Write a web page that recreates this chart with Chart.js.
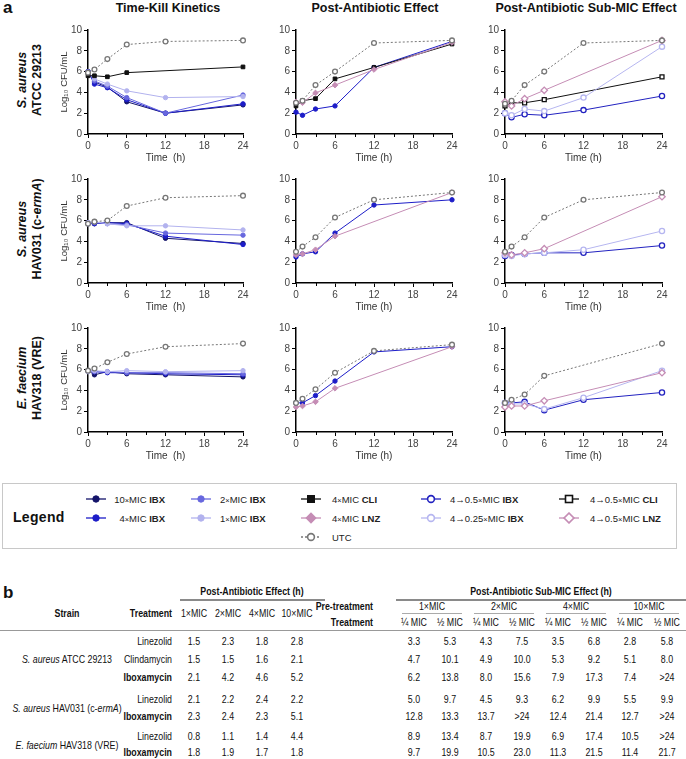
<!DOCTYPE html>
<html><head><meta charset="utf-8">
<script src="https://cdn.jsdelivr.net/npm/chart.js@4.4.1/dist/chart.umd.min.js"></script>
<style>
html,body{margin:0;padding:0;background:#fff}
body{width:686px;height:759px;position:relative;overflow:hidden;font-family:"Liberation Sans",Arial,sans-serif;color:#111}
.abs{position:absolute;white-space:nowrap}
canvas{position:absolute}
.rot{position:absolute;white-space:nowrap;transform:translate(-50%,-50%) rotate(-90deg);font-weight:bold;font-size:12.5px;color:#111}
.ctitle{position:absolute;white-space:nowrap;transform:translate(-50%,-50%);font-weight:bold;font-size:12.5px}
.lg{position:absolute;white-space:nowrap;font-size:9.5px;color:#222;transform:translateY(-50%)}
.lg .x{font-size:7.5px}
.tb{position:absolute;white-space:nowrap;font-family:"Liberation Sans",Arial,sans-serif;font-size:10.5px;color:#111;transform:translate(-50%,-50%) scaleX(0.84);transform-origin:50% 50%}
.tr{transform:translate(-100%,-50%) scaleX(0.84);transform-origin:100% 50%}
.hl{position:absolute;background:#8a8a8a}
</style>
</head><body>
<script>
// ---------------- DATA ----------------
const times = [0, 1, 3, 6, 12, 24];
const xTicks = [0, 6, 12, 18, 24];
const xMinorTicks = [3, 9, 15, 21];
const yTicks = [0, 2, 4, 6, 8, 10];
const colTitles = ["Time-Kill Kinetics", "Post-Antibiotic Effect", "Post-Antibiotic Sub-MIC Effect"];

// Row 1: S. aureus ATCC 29213
const tk1_utc   = [5.9, 6.2, 7.2, 8.6, 8.9, 9.0];
const tk1_cli   = [5.6, 5.6, 5.5, 5.9, null, 6.45];
const tk1_ibx10 = [6.0, 5.0, 4.5, 3.1, 2.0, 2.8];
const tk1_ibx4  = [6.0, 4.8, 4.45, 3.3, 2.0, 2.9];
const tk1_ibx2  = [6.0, 5.1, 4.6, 3.5, 2.0, 3.75];
const tk1_ibx1  = [5.9, 5.3, 4.8, 4.15, 3.5, 3.6];

const pae1_utc  = [3.0, 3.2, 4.7, 6.0, 8.75, 9.0];
const pae1_cli  = [2.7, 3.2, 3.4, 5.3, 6.4, 8.65];
const pae1_lnz  = [3.1, 3.0, 3.95, 4.7, 6.2, 8.8];
const pae1_ibx4 = [2.1, 1.8, 2.4, 2.7, 6.4, 8.9];

const sub1_utc    = [2.9, 3.2, 4.7, 6.0, 8.75, 9.0];
const sub1_cli    = [2.7, 3.0, 3.0, 3.3, null, 5.5];
const sub1_lnz    = [3.1, 2.7, 3.4, 4.2, null, 9.0];
const sub1_ibx025 = [2.0, 1.8, 2.4, 2.2, 3.5, 8.4];
const sub1_ibx05  = [2.0, 1.6, 1.9, 1.8, 2.3, 3.65];

// Row 2: S. aureus HAV031 (c-ermA)
const tk2_utc   = [5.7, 5.9, 6.0, 7.4, 8.2, 8.4];
const tk2_ibx10 = [5.8, 5.7, 5.8, 5.8, 4.3, 3.8];
const tk2_ibx4  = [5.7, 5.7, 5.8, 5.7, 4.5, 3.7];
const tk2_ibx2  = [5.7, 5.8, 5.7, 5.6, 4.8, 4.6];
const tk2_ibx1  = [5.8, 5.9, 5.7, 5.5, 5.5, 5.1];

const pae2_utc  = [3.0, 3.5, 4.4, 6.3, 8.0, 8.7];
const pae2_lnz  = [2.7, 2.8, 3.2, 4.5, null, 8.7];
const pae2_ibx4 = [2.5, 2.8, 3.0, 4.8, 7.5, 8.0];

const sub2_utc    = [3.0, 3.5, 4.4, 6.3, 8.0, 8.7];
const sub2_lnz    = [2.9, 2.7, 2.9, 3.3, null, 8.3];
const sub2_ibx025 = [2.7, 2.6, 2.8, 2.9, 3.2, 5.0];
const sub2_ibx05  = [2.6, 2.7, 2.8, 2.9, 2.9, 3.6];

// Row 3: E. faecium HAV318 (VRE)
const tk3_utc   = [5.9, 6.1, 6.7, 7.5, 8.2, 8.5];
const tk3_ibx10 = [5.9, 5.5, 5.8, 5.6, 5.5, 5.3];
const tk3_ibx4  = [5.9, 5.8, 5.7, 5.7, 5.6, 5.5];
const tk3_ibx2  = [5.9, 5.8, 5.8, 5.7, 5.7, 5.6];
const tk3_ibx1  = [5.8, 5.9, 5.8, 5.9, 5.8, 5.9];

const pae3_utc  = [2.8, 3.2, 4.1, 5.7, 7.8, 8.4];
const pae3_lnz  = [2.4, 2.5, 2.9, 4.2, null, 8.2];
const pae3_ibx4 = [2.8, 2.8, 3.5, 4.9, 7.7, 8.2];

const sub3_utc    = [2.8, 3.1, 3.6, 5.4, null, 8.5];
const sub3_lnz    = [2.4, 2.5, 2.5, 3.0, null, 5.7];
const sub3_ibx025 = [2.8, 2.7, 2.7, 2.2, 3.3, 5.9];
const sub3_ibx05  = [2.8, 2.8, 2.9, 2.1, 3.1, 3.8];

// Table (b)
const tblPaeHeaders = ["1×MIC", "2×MIC", "4×MIC", "10×MIC"];
const tblPreHeaders = ["1×MIC", "2×MIC", "4×MIC", "10×MIC"];
const tblSubHeaders = ["¼ MIC", "½ MIC", "¼ MIC", "½ MIC", "¼ MIC", "½ MIC", "¼ MIC", "½ MIC"];
const tblTreatments = ["Linezolid", "Clindamycin", "Iboxamycin", "Linezolid", "Iboxamycin", "Linezolid", "Iboxamycin"];
const tblPae = [
  ["1.5", "2.3", "1.8", "2.8"],
  ["1.5", "1.5", "1.6", "2.1"],
  ["2.1", "4.2", "4.6", "5.2"],
  ["2.1", "2.2", "2.4", "2.2"],
  ["2.3", "2.4", "2.3", "5.1"],
  ["0.8", "1.1", "1.4", "4.4"],
  ["1.8", "1.9", "1.7", "1.8"]
];
const tblSub = [
  ["3.3", "5.3", "4.3", "7.5", "3.5", "6.8", "2.8", "5.8"],
  ["4.7", "10.1", "4.9", "10.0", "5.3", "9.2", "5.1", "8.0"],
  ["6.2", "13.8", "8.0", "15.6", "7.9", "17.3", "7.4", ">24"],
  ["5.0", "9.7", "4.5", "9.3", "6.2", "9.9", "5.5", "9.9"],
  ["12.8", "13.3", "13.7", ">24", "12.4", "21.4", "12.7", ">24"],
  ["8.9", "13.4", "8.7", "19.9", "6.9", "17.4", "10.5", ">24"],
  ["9.7", "19.9", "10.5", "23.0", "11.3", "21.5", "11.4", "21.7"]
];
</script>
<script>
// ---------------- STYLES / LAYOUT ----------------
const ST = {
  ibx10:  {c:'#14146a', ps:'circle', fill:true,  r:2.2},
  ibx4:   {c:'#1d1dc8', ps:'circle', fill:true,  r:2.2},
  ibx2:   {c:'#6767de', ps:'circle', fill:true,  r:2.2},
  ibx1:   {c:'#b2b2ee', ps:'circle', fill:true,  r:2.2},
  cli:    {c:'#111111', ps:'rect',   fill:true,  r:2.6},
  lnz:    {c:'#c58db5', ps:'rectRot',fill:true,  r:2.8},
  ibx05:  {c:'#2222c0', ps:'circle', fill:false, r:2.6},
  ibx025: {c:'#b6b6f0', ps:'circle', fill:false, r:2.6},
  subcli: {c:'#111111', ps:'rect',   fill:false, r:2.8},
  sublnz: {c:'#c58db5', ps:'rectRot',fill:false, r:3.2},
  utc:    {c:'#777777', ps:'circle', fill:false, r:2.4, dash:[2,2]}
};
const AXIS_X = [88, 296, 505];
const PLOT_W = [155, 156, 157];
const Y_TOP = [30, 179, 328];
const PLOT_H = 104;
const YW = 40, XH = 34, PT = 10, PR = 12;

Chart.defaults.font.family = "'Liberation Sans', Arial, sans-serif";
Chart.defaults.animation = false;

const minorTicks = {
  id: 'minorTicks',
  afterDraw(chart) {
    const xs = chart.scales.x, ctx = chart.ctx;
    ctx.save(); ctx.strokeStyle = '#000'; ctx.lineWidth = 1;
    for (const v of xMinorTicks) {
      const px = Math.round(xs.getPixelForValue(v)) + 0.5;
      ctx.beginPath(); ctx.moveTo(px, xs.top); ctx.lineTo(px, xs.top + 3); ctx.stroke();
    }
    ctx.restore();
  }
};

function ds(key, values) {
  const s = ST[key];
  const pts = [];
  values.forEach((v, i) => { if (v !== null) pts.push({x: times[i], y: v}); });
  return {
    data: pts, borderColor: s.c, backgroundColor: s.fill ? s.c : '#ffffff',
    pointBackgroundColor: s.fill ? s.c : '#ffffff', pointBorderColor: s.c,
    pointStyle: s.ps, pointRadius: s.r, pointBorderWidth: s.fill ? 1 : 1.3,
    borderWidth: 1, borderDash: s.dash || [], clip: false, tension: 0
  };
}

function makeChart(col, row, sets) {
  const cv = document.createElement('canvas');
  const w = YW + PLOT_W[col] + PR, h = PT + PLOT_H + XH;
  cv.width = w; cv.height = h;
  cv.style.left = (AXIS_X[col] - YW) + 'px';
  cv.style.top = (Y_TOP[row] - PT) + 'px';
  cv.style.width = w + 'px'; cv.style.height = h + 'px';
  document.body.appendChild(cv);
  new Chart(cv, {
    type: 'line',
    data: {datasets: sets},
    plugins: [minorTicks],
    options: {
      responsive: false, animation: false, devicePixelRatio: 1,
      layout: {padding: {top: PT, right: PR, left: 0, bottom: 0}},
      plugins: {legend: {display: false}, tooltip: {enabled: false}},
      scales: {
        x: {
          type: 'linear', min: 0, max: 24,
          afterFit(s) { s.height = XH; },
          afterBuildTicks(s) { s.ticks = xTicks.map(v => ({value: v})); },
          ticks: {padding: 2, color: '#444', font: {size: 10}, maxRotation: 0, autoSkip: false},
          grid: {drawOnChartArea: false, drawTicks: true, tickLength: 4, tickColor: '#000', lineWidth: 1},
          border: {color: '#000', width: 1.5},
          title: {display: true, text: col === 0 ? 'Time  (h)' : 'Time (h)', color: '#333', font: {size: 10}, padding: {top: 0, bottom: 4}}
        },
        y: {
          type: 'linear', min: 0, max: 10,
          afterFit(s) { s.width = YW; },
          afterBuildTicks(s) { s.ticks = yTicks.map(v => ({value: v})); },
          ticks: {padding: 2, color: '#444', font: {size: 10}},
          grid: {drawOnChartArea: false, drawTicks: true, tickLength: 4, tickColor: '#000', lineWidth: 1},
          border: {color: '#000', width: 1.5},
          title: {display: col === 0, text: 'Log₁₀ CFU/mL', color: '#333', font: {size: 9.5}, padding: {top: 11, bottom: 0}}
        }
      }
    }
  });
}

// Row 1
makeChart(0, 0, [ds('utc', tk1_utc), ds('cli', tk1_cli), ds('ibx1', tk1_ibx1), ds('ibx2', tk1_ibx2), ds('ibx4', tk1_ibx4), ds('ibx10', tk1_ibx10)]);
makeChart(1, 0, [ds('utc', pae1_utc), ds('lnz', pae1_lnz), ds('cli', pae1_cli), ds('ibx4', pae1_ibx4)]);
makeChart(2, 0, [ds('utc', sub1_utc), ds('sublnz', sub1_lnz), ds('ibx025', sub1_ibx025), ds('subcli', sub1_cli), ds('ibx05', sub1_ibx05)]);
// Row 2
makeChart(0, 1, [ds('utc', tk2_utc), ds('ibx1', tk2_ibx1), ds('ibx2', tk2_ibx2), ds('ibx4', tk2_ibx4), ds('ibx10', tk2_ibx10)]);
makeChart(1, 1, [ds('utc', pae2_utc), ds('lnz', pae2_lnz), ds('ibx4', pae2_ibx4)]);
makeChart(2, 1, [ds('utc', sub2_utc), ds('sublnz', sub2_lnz), ds('ibx025', sub2_ibx025), ds('ibx05', sub2_ibx05)]);
// Row 3
makeChart(0, 2, [ds('utc', tk3_utc), ds('ibx1', tk3_ibx1), ds('ibx2', tk3_ibx2), ds('ibx4', tk3_ibx4), ds('ibx10', tk3_ibx10)]);
makeChart(1, 2, [ds('utc', pae3_utc), ds('lnz', pae3_lnz), ds('ibx4', pae3_ibx4)]);
makeChart(2, 2, [ds('utc', sub3_utc), ds('sublnz', sub3_lnz), ds('ibx025', sub3_ibx025), ds('ibx05', sub3_ibx05)]);

// ---------------- TEXT ----------------
function add(html, cls, style) {
  const d = document.createElement('div');
  d.className = cls; d.innerHTML = html; d.setAttribute('style', style);
  document.body.appendChild(d); return d;
}
add('a', 'abs', 'left:3px;top:-2px;font-weight:bold;font-size:17px');
add('b', 'abs', 'left:3px;top:583px;font-weight:bold;font-size:17px');
const COL_CX = [168, 375, 586];
colTitles.forEach((t, i) => add(t, 'ctitle', `left:${COL_CX[i]}px;top:8px`));

const rowLabels = [
  ['<i>S. aureus</i>', 'ATCC 29213'],
  ['<i>S. aureus</i>', 'HAV031 (c-<i>ermA</i>)'],
  ['<i>E. faecium</i>', 'HAV318 (VRE)']
];
const ROW_CY = [80, 229, 378];
rowLabels.forEach((r, i) => {
  add(r[0], 'rot', `left:22px;top:${ROW_CY[i]}px`);
  add(r[1], 'rot', `left:37px;top:${ROW_CY[i]}px`);
});

// ---------------- LEGEND ----------------
add('', 'abs', 'left:2px;top:483px;width:675px;height:66px;border:1px solid #c8c8c8;box-sizing:border-box');
add('Legend', 'abs', 'left:13px;top:509px;font-weight:bold;font-size:14px;letter-spacing:0.3px');
function markerSVG(key) {
  const s = ST[key];
  const fill = s.fill ? s.c : '#fff';
  let m;
  if (s.ps === 'circle') m = `<circle cx="10" cy="6" r="${s.fill ? 3.2 : 3.4}" fill="${fill}" stroke="${s.c}" stroke-width="${s.fill ? 1 : 1.6}"/>`;
  else if (s.ps === 'rect') m = `<rect x="6.5" y="2.5" width="7" height="7" fill="${fill}" stroke="${s.c}" stroke-width="${s.fill ? 1 : 1.6}"/>`;
  else m = `<rect x="6.5" y="2.5" width="7" height="7" fill="${fill}" stroke="${s.c}" stroke-width="${s.fill ? 1 : 1.6}" transform="rotate(45 10 6)"/>`;
  const dash = s.dash ? 'stroke-dasharray="2,2"' : '';
  return `<svg width="20" height="12" style="display:block"><line x1="0" y1="6" x2="20" y2="6" stroke="${s.c}" stroke-width="1.3" ${dash}/>${m}</svg>`;
}
const legendItems = [
  {k:'ibx10', t:'10<span class="x">×</span>MIC <b>IBX</b>', col:0, row:0},
  {k:'ibx4',  t:'4<span class="x">×</span>MIC <b>IBX</b>',  col:0, row:1},
  {k:'ibx2',  t:'2<span class="x">×</span>MIC <b>IBX</b>',  col:1, row:0},
  {k:'ibx1',  t:'1<span class="x">×</span>MIC <b>IBX</b>',  col:1, row:1},
  {k:'cli',   t:'4<span class="x">×</span>MIC <b>CLI</b>',  col:2, row:0},
  {k:'lnz',   t:'4<span class="x">×</span>MIC <b>LNZ</b>',  col:2, row:1},
  {k:'utc',   t:'UTC', col:2, row:2},
  {k:'ibx05', t:'4→0.5<span class="x">×</span>MIC <b>IBX</b>', col:3, row:0},
  {k:'ibx025',t:'4→0.25<span class="x">×</span>MIC <b>IBX</b>', col:3, row:1},
  {k:'subcli',t:'4→0.5<span class="x">×</span>MIC <b>CLI</b>', col:4, row:0},
  {k:'sublnz',t:'4→0.5<span class="x">×</span>MIC <b>LNZ</b>', col:4, row:1}
];
const LG_MX = [86, 191, 301, 421, 559];
const LG_TX = [116, 220, 332, 450, 590];
const LG_Y = [499, 518, 537];
legendItems.forEach(it => {
  add(markerSVG(it.k), 'abs', `left:${LG_MX[it.col]}px;top:${LG_Y[it.row] - 6}px`);
  if (it.col === 0) add(it.t, 'lg', `top:${LG_Y[it.row]}px;text-align:right;left:112px;width:53px`);
  else add(it.t, 'lg', `left:${LG_TX[it.col]}px;top:${LG_Y[it.row]}px`);
});

// ---------------- TABLE ----------------
const T_STRAIN_X = 67, T_TREAT_R = 172;
const T_PAE_X = [194, 228, 262, 297];
const T_SUB_X = [414, 450, 486, 522, 558, 594, 630, 667];
const T_ROW_Y = [641, 659, 677, 699, 716, 736, 752];
add('Post-Antibiotic Effect (h)', 'tb', 'left:252px;top:591px;font-weight:bold');
add('', 'hl', 'left:180px;top:599px;width:145px;height:2px');
add('Post-Antibiotic Sub-MIC Effect (h)', 'tb', 'left:541px;top:591px;font-weight:bold');
add('', 'hl', 'left:396px;top:599px;width:290px;height:2px');
add('Strain', 'tb', `left:${T_STRAIN_X}px;top:613px;font-weight:bold`);
add('Treatment', 'tb tr', `left:${T_TREAT_R}px;top:613px;font-weight:bold`);
tblPaeHeaders.forEach((h, i) => add(h, 'tb', `left:${T_PAE_X[i]}px;top:613px`));
add('Pre-treatment', 'tb tr', 'left:373px;top:606px;font-weight:bold');
add('Treatment', 'tb tr', 'left:373px;top:622px;font-weight:bold');
tblPreHeaders.forEach((h, i) => {
  const cx = (T_SUB_X[2 * i] + T_SUB_X[2 * i + 1]) / 2;
  add(h, 'tb', `left:${cx}px;top:606px`);
  add('', 'hl', `left:${cx - 30}px;top:613px;width:60px;height:1px;background:#aaa`);
});
tblSubHeaders.forEach((h, i) => add(h, 'tb', `left:${T_SUB_X[i]}px;top:622px`));
add('', 'hl', 'left:0px;top:630px;width:686px;height:1px;background:#999');
tblTreatments.forEach((t, r) => {
  add(t, 'tb tr', `left:${T_TREAT_R}px;top:${T_ROW_Y[r]}px;${t === 'Iboxamycin' ? 'font-weight:bold' : ''}`);
  tblPae[r].forEach((v, i) => add(v, 'tb', `left:${T_PAE_X[i]}px;top:${T_ROW_Y[r]}px`));
  tblSub[r].forEach((v, i) => add(v, 'tb', `left:${T_SUB_X[i]}px;top:${T_ROW_Y[r]}px`));
});
add('<i>S. aureus</i> ATCC 29213', 'tb', `left:${T_STRAIN_X}px;top:659px`);
add('<i>S. aureus</i> HAV031 (c-<i>ermA</i>)', 'tb', `left:${T_STRAIN_X}px;top:708px`);
add('<i>E. faecium</i> HAV318 (VRE)', 'tb', `left:${T_STRAIN_X}px;top:745px`);
</script>
</body></html>
